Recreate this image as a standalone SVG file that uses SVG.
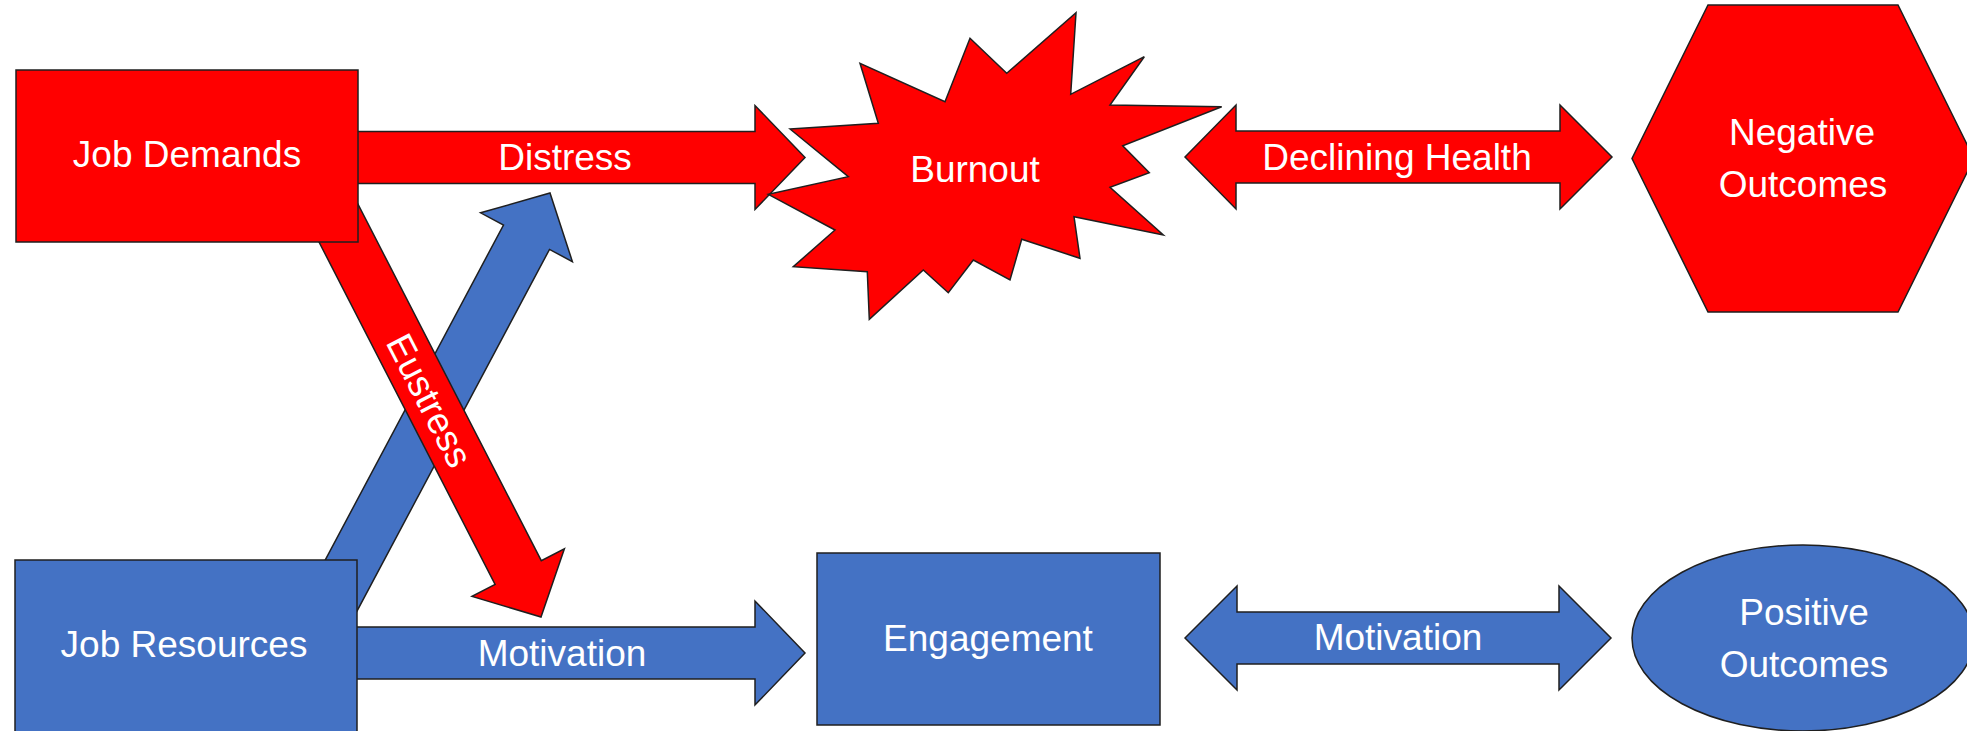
<svg xmlns="http://www.w3.org/2000/svg" width="1967" height="731" viewBox="0 0 1967 731">
<style>
.red{fill:#FF0000;stroke:#1f1f1f;stroke-width:1.5;stroke-linejoin:miter}
.blue{fill:#4472C4;stroke:#1f1f1f;stroke-width:1.5;stroke-linejoin:miter}
.lbl{font-family:"Liberation Sans",Arial,sans-serif;font-size:37px;fill:#FFFFFF;text-anchor:middle}
</style>
<rect width="1967" height="731" fill="#FFFFFF"/>
<g id="connectors">
  <g id="edge-resources-distress">
    <polygon class="blue" points="283.8,637.8 503.5,225 480.6,212.8 550,193 572.4,261.6 549.5,249.4 329.8,662.2"/>
  </g>
  <g id="edge-eustress">
    <polygon class="red" points="334.3,158.1 541.3,560.7 564.4,548.8 541,617 472,596.4 495.1,584.5 288.1,181.9"/>
    <text class="lbl" transform="translate(429.6,400.3) rotate(62.8)" x="0" y="13">Eustress</text>
  </g>
  <g id="edge-distress">
    <path class="red" d="M340,131.5 H755 V105.5 L805,157.5 L755,209.5 V183.5 H340 Z"/>
    <text class="lbl" x="565" y="170">Distress</text>
  </g>
  <g id="edge-motivation-1">
    <path class="blue" d="M340,627 H755 V601 L805,653 L755,705 V679 H340 Z"/>
    <text class="lbl" x="562" y="666">Motivation</text>
  </g>
  <g id="edge-declining-health">
    <path class="red" d="M1185,157 L1236,105 V131 H1560 V105 L1612,157 L1560,209 V183 H1236 V209 Z"/>
    <text class="lbl" x="1397" y="169.5">Declining Health</text>
  </g>
  <g id="edge-motivation-2">
    <path class="blue" d="M1185,638 L1237,586 V612 H1559 V586 L1611,638 L1559,690 V664 H1237 V690 Z"/>
    <text class="lbl" x="1398" y="650">Motivation</text>
  </g>
</g>
<g id="node-job-demands">
  <rect class="red" x="16" y="70" width="342" height="172"/>
  <text class="lbl" x="187" y="167">Job Demands</text>
</g>
<g id="node-job-resources">
  <rect class="blue" x="15" y="560" width="342" height="175"/>
  <text class="lbl" x="184" y="657">Job Resources</text>
</g>
<g id="node-burnout">
  <polygon class="red" points="790,129 878.3,123.3 860,63.3 945,101.7 970,38.3 1006.7,73.3 1076,12.7 1070.7,94.3 1144.3,56.7 1110,105 1221.7,106.7 1122.7,145.7 1149.3,172.7 1110,187.3 1163.3,235 1074,216.7 1080,258.3 1021.7,239.3 1010,280 973.3,260 948.3,292.7 923.3,270 869.3,319.3 867.3,271.7 793.3,266.7 835,230 768.3,194.3 848.3,176.7"/>
  <text class="lbl" x="975" y="182">Burnout</text>
</g>
<g id="node-engagement">
  <rect class="blue" x="817" y="553" width="343" height="172"/>
  <text class="lbl" x="988" y="651">Engagement</text>
</g>
<g id="node-negative-outcomes">
  <polygon class="red" points="1708,5 1898,5 1974,158.5 1898,312 1708,312 1632,158.5"/>
  <text class="lbl" x="1802" y="145">Negative</text>
  <text class="lbl" x="1803" y="197">Outcomes</text>
</g>
<g id="node-positive-outcomes">
  <ellipse class="blue" cx="1803" cy="638" rx="171" ry="93"/>
  <text class="lbl" x="1804" y="625">Positive</text>
  <text class="lbl" x="1804" y="677">Outcomes</text>
</g>
</svg>
